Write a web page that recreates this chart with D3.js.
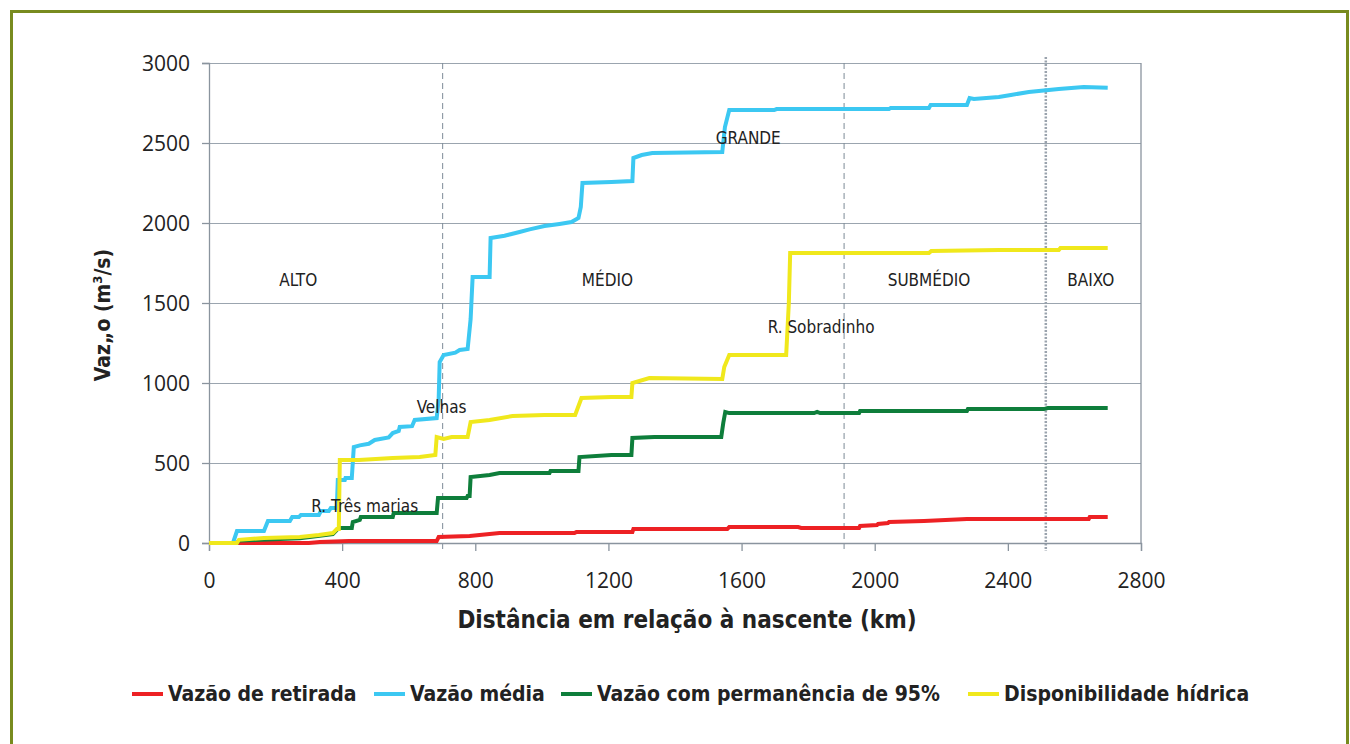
<!DOCTYPE html>
<html><head><meta charset="utf-8">
<script src="https://cdn.jsdelivr.net/npm/d3@7"></script>
<style>
html,body{margin:0;padding:0;background:#fff;}
svg{display:block;}
</style></head>
<body>
<svg id="chart" width="1350" height="744"></svg>
<script>
// ---- data ----
const xTicks = [0, 400, 800, 1200, 1600, 2000, 2400, 2800];
const yTicks = [0, 500, 1000, 1500, 2000, 2500, 3000];
const seriesNames = ["Vazão de retirada", "Vazão média", "Vazão com permanência de 95%", "Disponibilidade hídrica"];
const seriesColors = ["#ed2124", "#3cc8f2", "#0e7e3b", "#f0e81c"];

const vazaoRetirada = [[0,0],[300,0],[333,6],[420,12],[684,12],[690,37],[783,44],[873,62],[1098,62],[1104,69],[1272,69],[1275,87],[1557,87],[1563,100],[1770,100],[1779,94],[1953,94],[1956,106],[2007,112],[2010,119],[2040,125],[2043,131],[2148,137],[2277,150],[2643,150],[2646,162],[2700,162]];

const vazaoMedia = [[0,0],[72,0],[84,75],[165,75],[177,137],[243,137],[250,162],[270,162],[276,175],[330,175],[336,200],[360,200],[366,219],[384,219],[387,394],[408,394],[410,406],[429,406],[435,600],[453,610],[480,620],[498,644],[540,660],[552,687],[570,700],[573,725],[610,730],[618,769],[684,781],[690,900],[693,1131],[705,1175],[740,1190],[753,1206],[777,1212],[786,1400],[792,1662],[843,1662],[846,1906],[888,1920],[933,1944],[963,1960],[1008,1981],[1053,1994],[1089,2006],[1110,2031],[1117,2100],[1122,2250],[1209,2256],[1272,2262],[1275,2406],[1300,2425],[1332,2437],[1542,2444],[1550,2600],[1563,2706],[1698,2706],[1705,2712],[2043,2712],[2048,2719],[2163,2719],[2168,2737],[2277,2737],[2285,2781],[2298,2775],[2373,2787],[2409,2800],[2463,2819],[2553,2837],[2628,2850],[2700,2845]];

const vazao95 = [[0,0],[84,0],[90,15],[273,30],[372,55],[390,94],[429,94],[432,131],[453,144],[456,162],[552,162],[555,187],[684,187],[688,281],[774,281],[777,294],[783,294],[786,412],[843,425],[873,437],[1023,437],[1026,450],[1110,450],[1113,537],[1209,550],[1269,550],[1272,656],[1338,662],[1539,662],[1545,750],[1551,819],[1563,812],[1818,812],[1827,819],[1836,812],[1953,812],[1956,825],[2277,825],[2280,837],[2508,837],[2520,844],[2700,844]];

const disponibilidade = [[0,0],[84,0],[90,20],[165,31],[273,37],[330,50],[372,62],[384,87],[390,87],[393,519],[450,519],[552,531],[633,537],[680,550],[684,662],[705,650],[729,662],[777,662],[786,756],[843,769],[912,794],[1008,800],[1100,800],[1119,906],[1209,912],[1269,912],[1272,1000],[1323,1031],[1542,1025],[1548,1100],[1563,1175],[1734,1175],[1742,1500],[1746,1812],[2163,1812],[2170,1825],[2373,1831],[2553,1831],[2558,1844],[2700,1844]];

const regionBounds = [702, 1908, 2514];
const regionLabels = [["ALTO", 268, 1606], ["MÉDIO", 1197, 1606], ["SUBMÉDIO", 2163, 1606], ["BAIXO", 2649, 1606]];
const riverLabels = [["GRANDE", 1620, 2494], ["R. Sobradinho", 1839, 1312], ["Velhas", 699, 812], ["R. Três marias", 468, 194]];

// ---- layout ----
const svg = d3.select("#chart");
const x = d3.scaleLinear().domain([0, 2800]).range([209, 1141]);
const y = d3.scaleLinear().domain([0, 3000]).range([543, 63]);
const axisColor = "#8a949e";
const tickFont = "'Open Sans', sans-serif";
const labelFont = "'DejaVu Sans Condensed', 'DejaVu Sans', sans-serif";

// outer frame
svg.append("rect").attr("x", 11.5).attr("y", 11.5).attr("width", 1336).attr("height", 760)
  .attr("fill", "none").attr("stroke", "#788b1f").attr("stroke-width", 3);

// gridlines
const grid = svg.append("g").attr("transform", "translate(209,0)")
  .call(d3.axisLeft(y).tickValues(yTicks.slice(1)).tickSize(-(1141 - 209)).tickFormat(""));
grid.select(".domain").remove();
grid.selectAll("line").attr("stroke", "#9ba5af").attr("stroke-width", 1.2);

// right border
svg.append("line").attr("x1", 1141).attr("x2", 1141).attr("y1", 63).attr("y2", 543)
  .attr("stroke", axisColor).attr("stroke-width", 1.3);

// region boundary lines
regionBounds.forEach((d, i) => {
  svg.append("line").attr("x1", x(d)).attr("x2", x(d))
    .attr("y1", i === 2 ? 57 : 63).attr("y2", 551)
    .attr("stroke", i === 2 ? "#9aa3ad" : "#7d8a97")
    .attr("stroke-width", i === 2 ? 2.5 : 1)
    .attr("stroke-dasharray", i === 2 ? "2,1.5" : "6,4");
});

// axes
const fmt = d3.format("d");
const yAxis = svg.append("g").attr("transform", "translate(209,0)")
  .call(d3.axisLeft(y).tickValues(yTicks).tickFormat(fmt).tickSize(7).tickPadding(12));
const xAxis = svg.append("g").attr("transform", "translate(0,543)")
  .call(d3.axisBottom(x).tickValues(xTicks).tickFormat(fmt).tickSize(8).tickPadding(22));
[yAxis, xAxis].forEach(a => {
  a.select(".domain").attr("stroke", axisColor).attr("stroke-width", 1.3);
  a.selectAll("line").attr("stroke", axisColor).attr("stroke-width", 1.3);
  a.selectAll("text").attr("font-family", tickFont).attr("font-size", 21).attr("fill", "#222");
});
yAxis.selectAll("text").attr("dy", "0.35em");

// lines
const line = d3.line().x(d => x(d[0])).y(d => y(d[1]));
const allSeries = [vazaoRetirada, vazaoMedia, vazao95, disponibilidade];
allSeries.forEach((s, i) => {
  svg.append("path").datum(s).attr("d", line).attr("fill", "none")
    .attr("stroke", seriesColors[i]).attr("stroke-width", 4)
    .attr("stroke-linejoin", "miter").attr("stroke-linecap", "butt");
});

// region & river labels
regionLabels.concat(riverLabels).forEach(d => {
  svg.append("text").attr("x", x(d[1])).attr("y", y(d[2]))
    .attr("text-anchor", "middle").attr("font-family", labelFont)
    .attr("font-size", 17).attr("fill", "#222").text(d[0]);
});

// axis titles
const yt = svg.append("text").attr("transform", "translate(110,315) rotate(-90)")
  .attr("text-anchor", "middle").attr("font-family", labelFont).attr("font-weight", "bold")
  .attr("font-size", 21).attr("fill", "#222");
yt.append("tspan").text("Vaz„o (m");
yt.append("tspan").attr("font-size", 13).attr("dy", -8).text("3");
yt.append("tspan").attr("dy", 8).text("/s)");

svg.append("text").attr("x", 687).attr("y", 628).attr("text-anchor", "middle")
  .attr("font-family", labelFont).attr("font-weight", "bold").attr("font-size", 24)
  .attr("fill", "#222").text("Distância em relação à nascente (km)");

// legend
const legendX = [132, 374, 561, 968];
seriesNames.forEach((n, i) => {
  const g = svg.append("g").attr("transform", `translate(${legendX[i]},694)`);
  g.append("line").attr("x1", 0).attr("x2", 31).attr("y1", 0).attr("y2", 0)
    .attr("stroke", seriesColors[i]).attr("stroke-width", 4);
  g.append("text").attr("x", 36).attr("y", 7).attr("font-family", labelFont)
    .attr("font-weight", "bold").attr("font-size", 21).attr("fill", "#222").text(n);
});
</script>
</body></html>
